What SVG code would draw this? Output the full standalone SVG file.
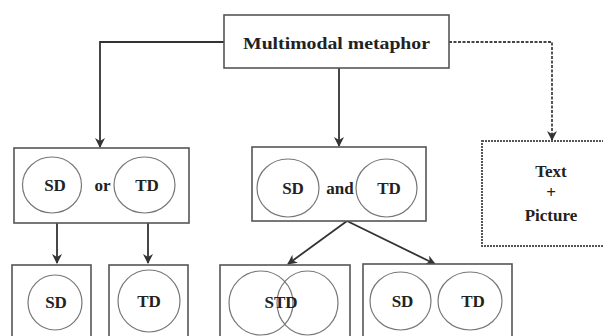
<svg xmlns="http://www.w3.org/2000/svg" width="603" height="336" viewBox="0 0 603 336">
<style>
.box{fill:#fff;stroke:#555;stroke-width:1.6}
.dbox{fill:#fff;stroke:#555;stroke-width:2;stroke-dasharray:2 1}
.c{fill:none;stroke:#777;stroke-width:1.2}
.t{font-family:'Liberation Serif','Times New Roman','DejaVu Serif',serif;font-weight:bold;fill:#222;text-anchor:middle}
.s{font-size:17px}
.ln{fill:none;stroke:#333;stroke-width:1.8}
.dl{fill:none;stroke:#444;stroke-width:1.8;stroke-dasharray:3 1.5}
</style>
<defs>
<marker id="ah" viewBox="0 0 10 10" refX="9" refY="5" markerWidth="10" markerHeight="10" orient="auto" markerUnits="userSpaceOnUse">
<path d="M0,0 L10,5 L0,10 L3,5 z" fill="#333"/>
</marker>
</defs>
<rect width="603" height="336" fill="#fff"/>
<g id="connectors">
<path class="ln" d="M224,42 H100 V147" marker-end="url(#ah)"/>
<path class="ln" d="M339,68 V146" marker-end="url(#ah)"/>
<path class="dl" d="M449,42 H552 V140" marker-end="url(#ah)"/>
<path class="ln" d="M57,223 V263" marker-end="url(#ah)"/>
<path class="ln" d="M148,223 V263" marker-end="url(#ah)"/>
<path class="ln" d="M347,221 L288,264" marker-end="url(#ah)"/>
<path class="ln" d="M347,221 L435,264" marker-end="url(#ah)"/>
</g>
<g id="main">
<rect class="box" x="224" y="15" width="225" height="53"/>
<text class="t" x="336.5" y="49" font-size="17" textLength="187" lengthAdjust="spacingAndGlyphs">Multimodal metaphor</text>
</g>
<g id="sd-or-td">
<rect class="box" x="14" y="148" width="175" height="75"/>
<ellipse class="c" cx="52" cy="185" rx="29.5" ry="28"/>
<ellipse class="c" cx="144.5" cy="185" rx="30.5" ry="28"/>
<text class="t s" x="55" y="191">SD</text>
<text class="t s" x="102.5" y="191">or</text>
<text class="t s" x="147" y="191">TD</text>
</g>
<g id="sd-and-td">
<rect class="box" x="252" y="147" width="174" height="74"/>
<ellipse class="c" cx="288" cy="188" rx="31" ry="29"/>
<ellipse class="c" cx="386.5" cy="188" rx="30.5" ry="29"/>
<text class="t s" x="293" y="194">SD</text>
<text class="t s" x="340" y="194">and</text>
<text class="t s" x="389" y="194">TD</text>
</g>
<g id="text-picture">
<rect class="dbox" x="482" y="141" width="125" height="105"/>
<text class="t s" x="551" y="177">Text</text>
<text class="t s" x="551" y="198">+</text>
<text class="t s" x="551" y="221">Picture</text>
</g>
<g id="sd">
<rect class="box" x="12" y="265" width="79" height="80"/>
<ellipse class="c" cx="55" cy="302.5" rx="27" ry="27.5"/>
<text class="t s" x="56" y="308">SD</text>
</g>
<g id="td">
<rect class="box" x="109" y="265" width="79" height="80"/>
<ellipse class="c" cx="149" cy="301" rx="31" ry="31"/>
<text class="t s" x="149" y="307">TD</text>
</g>
<g id="std">
<rect class="box" x="220" y="265" width="130" height="80"/>
<ellipse class="c" cx="261" cy="303" rx="32" ry="32"/>
<ellipse class="c" cx="307.5" cy="303" rx="30.5" ry="32"/>
<text class="t s" x="281" y="308">STD</text>
</g>
<g id="sd-td">
<rect class="box" x="363" y="264" width="149" height="81"/>
<ellipse class="c" cx="400.5" cy="301" rx="30.5" ry="29"/>
<ellipse class="c" cx="470" cy="301" rx="32" ry="29"/>
<text class="t s" x="402.5" y="307">SD</text>
<text class="t s" x="473" y="307">TD</text>
</g>
</svg>
